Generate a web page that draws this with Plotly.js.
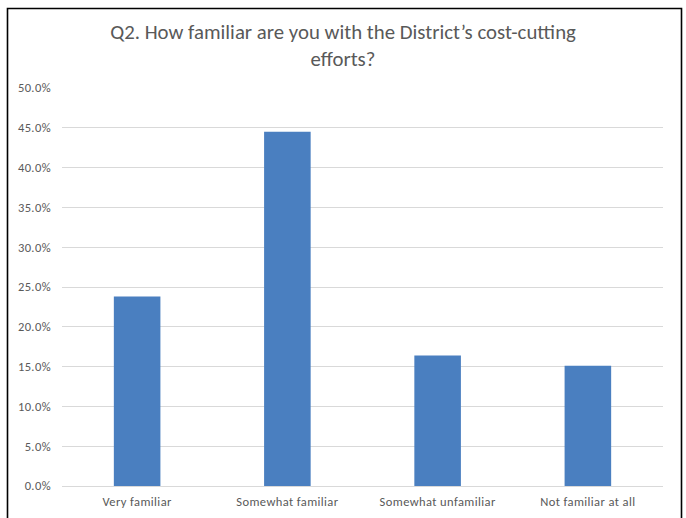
<!DOCTYPE html>
<html>
<head>
<meta charset="utf-8">
<script src="https://cdn.plot.ly/plotly-3.0.1.min.js"></script>
<style>
html,body{margin:0;padding:0;background:#fff;}
#chart{width:686px;height:518px;}
#chart .xtick text, #chart .ytick text{letter-spacing:0.4px;}
</style>
</head>
<body>
<div id="chart"></div>
<script>
const categories = ["Very familiar", "Somewhat familiar", "Somewhat unfamiliar", "Not familiar at all"];
const values = [0.238, 0.445, 0.164, 0.151];
const yTicks = [0, 0.05, 0.10, 0.15, 0.20, 0.25, 0.30, 0.35, 0.40, 0.45, 0.50];
const titleText = "Q2. How familiar are you with the District’s cost-cutting<br>efforts?";

const fam = "Carlito, Calibri, 'Liberation Sans', sans-serif";

const trace = {
  type: "bar",
  x: categories,
  y: values,
  marker: {color: "#4a7fc0"},
  hoverinfo: "skip"
};

const layout = {
  width: 686,
  height: 518,
  margin: {l: 62, r: 23, t: 88, b: 32},
  paper_bgcolor: "#ffffff",
  plot_bgcolor: "#ffffff",
  showlegend: false,
  bargap: 0.69,
  font: {family: fam, color: "#595959"},
  title: {
    text: titleText,
    x: 0.5, xref: "container", xanchor: "center",
    y: 0.925, yref: "container", yanchor: "top",
    font: {size: 20.8, color: "#595959", family: fam}
  },
  xaxis: {
    type: "category",
    tickfont: {size: 12.5, color: "#595959"},
    showgrid: false,
    showline: false,
    zeroline: false,
    ticks: "",
    ticklabelstandoff: 6,
    fixedrange: true
  },
  yaxis: {
    range: [0, 0.5],
    tickvals: yTicks,
    tickformat: ".1%",
    tickfont: {size: 12.5, color: "#595959"},
    gridcolor: "#d9d9d9",
    gridwidth: 1,
    showline: false,
    zeroline: true,
    zerolinecolor: "#d9d9d9",
    zerolinewidth: 1,
    ticks: "",
    ticklabelstandoff: 10,
    fixedrange: true
  },
  shapes: [{
    type: "rect",
    xref: "paper", yref: "paper",
    x0: (7.5 - 62) / 601, x1: (681.5 - 62) / 601,
    y0: (486 - 530) / 398, y1: (486 - 8.5) / 398,
    line: {color: "#000000", width: 1.6},
    fillcolor: "rgba(0,0,0,0)",
    layer: "above"
  }]
};

Plotly.newPlot("chart", [trace], layout, {displayModeBar: false, staticPlot: true});
</script>
</body>
</html>
